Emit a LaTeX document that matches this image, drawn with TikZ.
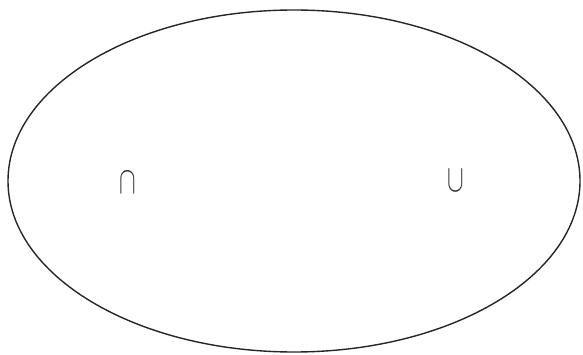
\documentclass[tikz,border=0pt]{standalone}
\usetikzlibrary{shapes.geometric}
\begin{document}
\begin{tikzpicture}[x=1pt,y=-1pt,
  sym/.style={font=\fontsize{26}{30}\selectfont, inner sep=0pt, yscale=1.55, transform shape, text=black!80},
  oval/.style={draw=black!85, line width=1.4pt, ellipse, inner sep=0pt, minimum width=572pt, minimum height=342pt}]
\useasboundingbox (0,0) rectangle (583,355);
\node[oval] (e) at (294,181) {};
\node[sym] (cap) at (128,183) {$\cap$};
\node[sym] (cup) at (456,181) {$\cup$};
\end{tikzpicture}
\end{document}
